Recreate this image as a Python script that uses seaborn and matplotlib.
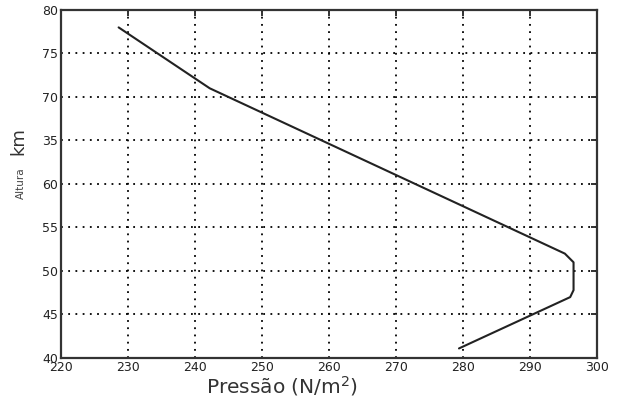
import matplotlib
matplotlib.use("Agg")
import matplotlib.pyplot as plt
import seaborn as sns
import pandas as pd

# Data
pressure = [228.6, 242.2, 295.2, 296.5, 296.5, 296.0, 279.4]
altitude = [78.0, 71.0, 52.0, 51.0, 47.8, 47.0, 41.1]

x_ticks = [220, 230, 240, 250, 260, 270, 280, 290, 300]
y_ticks = [40, 45, 50, 55, 60, 65, 70, 75, 80]
y_tick_labels = ["40", "45", "50", "55", "60", "35", "70", "75", "80"]

sns.set_style("white")
plt.rcParams['font.family'] = ['DejaVu Sans']

fig = plt.figure(figsize=(6.28, 4.05), dpi=100)
ax = fig.add_axes([61/628, 1-358/405, (597-61)/628, (358-10)/405])

df = pd.DataFrame({"Pressão": pressure, "Altura": altitude})
sns.lineplot(data=df, x="Pressão", y="Altura", sort=False, ax=ax,
             color="#222222", linewidth=1.5, estimator=None)

ax.set_xlim(220, 300)
ax.set_ylim(40, 80)
ax.set_xticks(x_ticks)
ax.set_xticklabels([str(v) for v in x_ticks])
ax.set_yticks(y_ticks)
ax.set_yticklabels(y_tick_labels)

ax.grid(True, color="black", linestyle=(0, (1, 3)), linewidth=1.3)
ax.tick_params(direction="in", length=4, width=1.3, top=True, right=True,
               labelsize=9, colors="#222222", pad=2)
for s in ax.spines.values():
    s.set_color("#333333")
    s.set_linewidth(1.6)

ax.set_xlabel("Pressão (N/m$^2$)", fontsize=14.5, color="#333333")
ax.xaxis.set_label_coords((282-61)/(597-61), -0.045, transform=ax.transAxes)
ax.xaxis.label.set_va("top")
ax.set_ylabel("")

fig.text(21/628, 1-183/405, "Altura", rotation=90, fontsize=7.5,
         ha="center", va="center", color="#444444")
fig.text(18/628, 1-141/405, "km", rotation=90, fontsize=13,
         ha="center", va="center", color="#333333")

fig.savefig("out.png", dpi=100)
